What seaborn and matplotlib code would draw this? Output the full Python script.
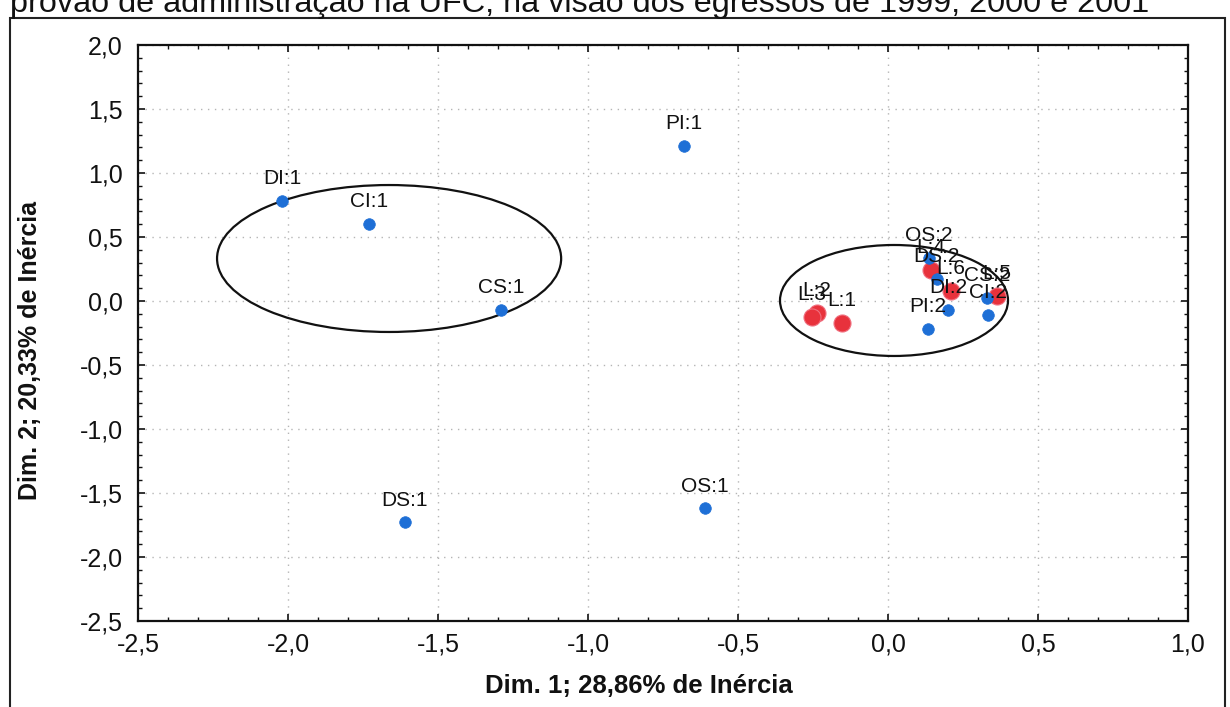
import matplotlib
matplotlib.use("Agg")
import matplotlib.pyplot as plt
import seaborn as sns
import pandas as pd
from matplotlib.patches import Ellipse, Rectangle
from matplotlib.ticker import MultipleLocator, FuncFormatter

# ---- data ----
labels_col = ["DI:1", "CI:1", "PI:1", "CS:1", "DS:1", "OS:1",
              "OS:2", "DS:2", "CS:2", "DI:2", "CI:2", "PI:2"]
dim1_col = [-2.02, -1.73, -0.68, -1.29, -1.61, -0.61,
            0.137, 0.163, 0.33, 0.20, 0.333, 0.133]
dim2_col = [0.78, 0.60, 1.21, -0.07, -1.73, -1.62,
            0.336, 0.172, 0.023, -0.07, -0.109, -0.219]

labels_row = ["L:1", "L:2", "L:3", "L:4", "L:5", "L:6"]
dim1_row = [-0.153, -0.237, -0.253, 0.143, 0.363, 0.21]
dim2_row = [-0.172, -0.094, -0.125, 0.242, 0.039, 0.078]

title_text = "provão de administração na UFC, na visão dos egressos de 1999, 2000 e 2001"
xlabel_text = "Dim. 1; 28,86% de Inércia"
ylabel_text = "Dim. 2; 20,33% de Inércia"

df = pd.DataFrame({
    "label": labels_col + labels_row,
    "x": dim1_col + dim1_row,
    "y": dim2_col + dim2_row,
    "tipo": ["col"] * len(labels_col) + ["row"] * len(labels_row),
})

sns.set_theme(style="white")
plt.rcParams["font.family"] = ["Liberation Sans", "DejaVu Sans"]

fig = plt.figure(figsize=(12.3, 7.07), dpi=100)
ax = fig.add_axes([138 / 1230, 1 - 621 / 707, 1050 / 1230, 576 / 707])

blue = "#1e6fd6"
red = "#e8323c"
sub_c = df[df.tipo == "col"]
sub_r = df[df.tipo == "row"]
sns.scatterplot(data=sub_c, x="x", y="y", color=blue, s=70, edgecolor=blue,
                linewidth=0.5, ax=ax, zorder=4, legend=False)
sns.scatterplot(data=sub_r, x="x", y="y", color=red, s=150, edgecolor="#f07080",
                linewidth=0.8, ax=ax, zorder=3, legend=False)

for _, r in df.iterrows():
    ax.annotate(r["label"], (r["x"], r["y"]), xytext=(0, 16), textcoords="offset points",
                ha="center", va="center", fontsize=15, color="#111111", zorder=5)

# ellipses
ax.add_patch(Ellipse((-1.663, 0.332), 1.147, 1.148, fill=False, edgecolor="#111111",
                     linewidth=1.6, zorder=2))
ax.add_patch(Ellipse((0.02, 0.004), 0.76, 0.867, fill=False, edgecolor="#111111",
                     linewidth=1.6, zorder=2))

ax.set_xlim(-2.5, 1.0)
ax.set_ylim(-2.5, 2.0)
ax.xaxis.set_major_locator(MultipleLocator(0.5))
ax.yaxis.set_major_locator(MultipleLocator(0.5))
ax.xaxis.set_minor_locator(MultipleLocator(0.1))
ax.yaxis.set_minor_locator(MultipleLocator(0.1))
fmt = FuncFormatter(lambda v, p: f"{v:.1f}".replace(".", ","))
ax.xaxis.set_major_formatter(fmt)
ax.yaxis.set_major_formatter(fmt)
ax.tick_params(which="both", direction="in", top=True, right=True, bottom=True, left=True,
               color="#111111")
ax.tick_params(which="major", length=5, width=1.2, labelsize=18, pad=8, labelcolor="#111111")
ax.tick_params(which="minor", length=3, width=1.0)
ax.tick_params(axis="y", which="major", pad=11)
ax.grid(True, which="major", linestyle=(0, (1, 4)), color="#b5b5b5", linewidth=1.0)
for s in ax.spines.values():
    s.set_color("#111111")
    s.set_linewidth(1.6)

ax.set_xlabel(xlabel_text, fontsize=18.5, fontweight="bold", color="#111111")
ax.set_ylabel(ylabel_text, fontsize=18, fontweight="bold", color="#111111")
ax.xaxis.set_label_coords((639 - 138) / 1050, -(674 - 621) / 576)
ax.yaxis.set_label_coords(-(138 - 42) / 1050, (621 - 350) / 576)

# outer frame & clipped title
fig.patches.append(Rectangle((10 / 1230, -0.05), 1215 / 1230, 1.05 - 18 / 707,
                             transform=fig.transFigure, fill=False,
                             edgecolor="#222222", linewidth=1.5))
fig.text(10 / 1230, 1 - 12 / 707, title_text, fontsize=23.3, ha="left", va="baseline",
         color="#111111")

fig.savefig("out.png", dpi=100)
